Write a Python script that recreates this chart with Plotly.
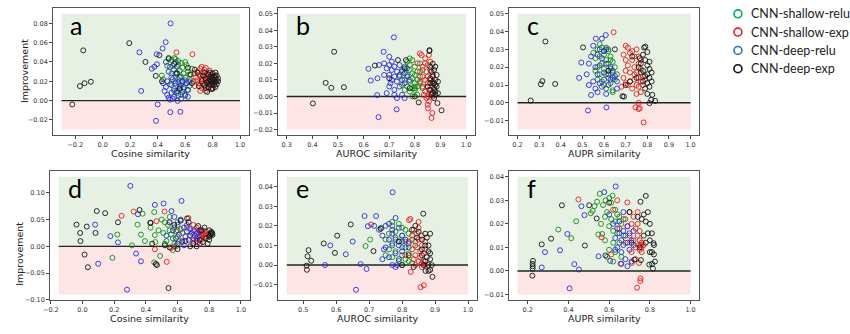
import plotly.graph_objects as go

W, H = 850, 334

# ---------------- data (x similarity, y improvement) ----------------
series_names = ["CNN-shallow-relu", "CNN-shallow-exp", "CNN-deep-relu", "CNN-deep-exp"]
series_colors = ["rgb(20,140,20)", "rgb(228,30,30)", "rgb(45,45,210)", "rgb(20,20,20)"]
legend_colors = ["#00B050", "#E8202A", "#2E75B6", "#111111"]

a_shallow_relu = [(0.43,0.026),(0.47,0.036),(0.48,0.043),(0.50,0.042),(0.52,0.044),(0.53,0.043),(0.55,0.041),(0.57,0.039),(0.60,0.040),(0.61,0.037),(0.58,0.034),(0.56,0.031),(0.54,0.029),(0.52,0.032),(0.50,0.028),(0.59,0.028),(0.62,0.030),(0.63,0.027),(0.57,0.025),(0.60,0.024),(0.55,0.022),(0.53,0.020),(0.58,0.019),(0.61,0.018),(0.64,0.021),(0.56,0.015),(0.59,0.012),(0.62,0.011),(0.54,0.008),(0.57,0.006),(0.60,0.005),(0.52,0.010),(0.49,0.017),(0.65,0.033),(0.63,0.015),(0.55,0.037),(0.51,0.036),(0.44,0.022)]
a_shallow_exp = [(0.537,0.050),(0.653,0.048),(0.66,0.020),(0.67,0.015),(0.68,0.024),(0.69,0.030),(0.70,0.027),(0.70,0.018),(0.71,0.033),(0.72,0.035),(0.72,0.022),(0.72,0.013),(0.73,0.029),(0.73,0.018),(0.74,0.032),(0.74,0.025),(0.74,0.015),(0.75,0.021),(0.75,0.010),(0.76,0.028),(0.76,0.017),(0.77,0.024),(0.77,0.013),(0.78,0.031),(0.78,0.020),(0.79,0.027),(0.79,0.016),(0.80,0.023),(0.80,0.012),(0.81,0.019),(0.71,0.010),(0.69,0.021),(0.67,0.028),(0.75,0.034),(0.82,0.026),(0.76,0.022),(0.78,0.025),(0.73,0.022),(0.71,0.026)]
a_deep_relu = [(0.494,0.080),(0.458,0.0605),(0.267,0.050),(0.393,0.048),(0.436,0.054),(0.376,0.035),(0.357,0.033),(0.395,0.0376),(0.28,0.010),(0.40,-0.004),(0.388,-0.021),(0.492,-0.012),(0.565,-0.0116),(0.545,-0.0003),(0.45,0.010),(0.46,0.014),(0.47,0.006),(0.48,0.003),(0.49,0.001),(0.50,0.008),(0.50,0.016),(0.51,0.022),(0.52,0.012),(0.52,0.004),(0.53,0.018),(0.53,0.028),(0.54,0.010),(0.54,0.035),(0.55,0.019),(0.55,0.005),(0.56,0.024),(0.56,0.013),(0.57,0.016),(0.57,0.002),(0.58,0.020),(0.58,0.009),(0.59,0.014),(0.60,0.006),(0.60,0.021),(0.61,0.018),(0.62,0.011),(0.62,0.004),(0.63,0.019),(0.48,0.030),(0.50,0.024),(0.46,0.040),(0.49,0.035),(0.53,0.040),(0.44,0.018),(0.51,0.002),(0.47,0.020)]
a_deep_exp = [(-0.222,-0.004),(-0.142,0.052),(-0.166,0.015),(-0.133,0.018),(-0.087,0.0195),(0.193,0.0595),(0.311,0.040),(0.412,0.047),(0.386,0.0256),(0.431,0.020),(0.48,0.044),(0.54,0.028),(0.52,0.038),(0.56,0.012),(0.62,0.034),(0.64,0.027),(0.65,0.018),(0.67,0.032),(0.69,0.029),(0.70,0.015),(0.72,0.020),(0.73,0.026),(0.74,0.016),(0.75,0.023),(0.76,0.019),(0.76,0.009),(0.77,0.027),(0.77,0.014),(0.78,0.022),(0.78,0.017),(0.79,0.025),(0.79,0.020),(0.79,0.012),(0.80,0.023),(0.80,0.018),(0.80,0.028),(0.81,0.021),(0.81,0.016),(0.81,0.025),(0.82,0.019),(0.82,0.023),(0.82,0.014),(0.83,0.021),(0.83,0.017),(0.83,0.026),(0.84,0.020),(0.84,0.023),(0.78,0.029),(0.80,0.013),(0.77,0.020),(0.75,0.013),(0.74,0.029),(0.82,0.029)]

b_shallow_relu = [(0.74,0.012),(0.75,0.015),(0.76,0.018),(0.76,0.010),(0.77,0.021),(0.77,0.013),(0.77,0.006),(0.78,0.019),(0.78,0.016),(0.78,0.009),(0.78,0.003),(0.79,0.022),(0.79,0.014),(0.79,0.011),(0.79,0.005),(0.79,0.000),(0.80,0.018),(0.80,0.013),(0.80,0.008),(0.80,0.005),(0.80,0.006),(0.80,0.004),(0.81,0.015),(0.81,0.010),(0.81,0.006),(0.81,0.001),(0.82,0.012),(0.82,0.008),(0.82,0.020),(0.83,0.016),(0.83,0.005),(0.76,0.004),(0.75,0.007),(0.78,0.023)]
b_shallow_exp = [(0.819,0.026),(0.826,0.025),(0.865,-0.013),(0.868,-0.010),(0.851,-0.0072),(0.85,-0.005),(0.855,-0.003),(0.85,0.000),(0.84,0.003),(0.83,0.006),(0.83,0.012),(0.83,0.018),(0.84,0.020),(0.84,0.010),(0.845,0.015),(0.85,0.008),(0.85,0.012),(0.85,0.019),(0.855,0.004),(0.86,0.002),(0.86,0.010),(0.86,0.016),(0.865,0.006),(0.87,0.009),(0.87,0.013),(0.87,0.000),(0.875,0.004),(0.82,0.015),(0.82,0.009),(0.81,0.020),(0.84,0.023),(0.86,0.021),(0.845,-0.001),(0.835,0.001),(0.855,0.025)]
b_deep_relu = [(0.718,0.0357),(0.678,0.027),(0.70,0.024),(0.619,0.0167),(0.628,0.0096),(0.654,0.011),(0.653,0.0008),(0.658,-0.0125),(0.729,-0.0078),(0.66,0.019),(0.68,0.020),(0.69,0.017),(0.69,0.002),(0.70,0.019),(0.70,0.013),(0.70,0.006),(0.71,0.021),(0.71,0.016),(0.71,0.010),(0.72,0.018),(0.72,0.012),(0.72,0.004),(0.73,0.015),(0.73,0.009),(0.73,-0.001),(0.74,0.019),(0.74,0.013),(0.74,0.006),(0.75,0.016),(0.75,0.010),(0.75,0.001),(0.76,0.014),(0.76,0.008),(0.76,-0.001),(0.77,0.012),(0.77,0.017),(0.78,0.010),(0.72,0.001),(0.68,0.013),(0.705,0.008)]
b_deep_exp = [(0.402,-0.0042),(0.485,0.027),(0.452,0.0082),(0.474,0.0052),(0.523,0.0056),(0.644,0.0187),(0.70,0.011),(0.734,0.022),(0.765,0.022),(0.815,-0.0036),(0.904,-0.0084),(0.888,-0.004),(0.857,0.028),(0.857,0.0275),(0.87,0.0197),(0.86,0.018),(0.865,0.015),(0.87,0.012),(0.875,0.016),(0.87,0.008),(0.875,0.005),(0.88,0.010),(0.88,0.003),(0.88,0.001),(0.885,0.006),(0.885,0.013),(0.89,0.002),(0.86,0.004),(0.865,0.001),(0.87,0.002),(0.875,0.008),(0.88,0.018),(0.86,0.011),(0.89,0.009),(0.875,-0.001),(0.86,0.008),(0.88,0.007),(0.85,0.006),(0.80,0.0),(0.78,0.005),(0.76,0.017)]

c_shallow_relu = [(0.55,0.028),(0.56,0.025),(0.57,0.030),(0.57,0.020),(0.58,0.026),(0.58,0.016),(0.59,0.031),(0.59,0.022),(0.59,0.012),(0.60,0.027),(0.60,0.019),(0.60,0.010),(0.61,0.031),(0.61,0.024),(0.61,0.016),(0.61,0.008),(0.62,0.029),(0.62,0.022),(0.62,0.014),(0.62,0.030),(0.63,0.026),(0.63,0.019),(0.63,0.011),(0.64,0.023),(0.64,0.017),(0.64,0.007),(0.65,0.020),(0.65,0.013),(0.66,0.016),(0.58,0.033),(0.60,0.029),(0.62,0.018),(0.63,0.024),(0.56,0.018),(0.64,0.006),(0.57,0.013)]
c_shallow_exp = [(0.644,0.0396),(0.783,-0.011),(0.765,-0.003),(0.76,-0.0035),(0.745,-0.0025),(0.76,0.0),(0.70,0.032),(0.71,0.031),(0.69,0.027),(0.70,0.024),(0.70,0.018),(0.69,0.014),(0.71,0.021),(0.72,0.028),(0.72,0.017),(0.72,0.012),(0.73,0.024),(0.73,0.029),(0.73,0.008),(0.74,0.020),(0.74,0.013),(0.74,0.026),(0.75,0.017),(0.75,0.010),(0.75,0.005),(0.76,0.022),(0.76,0.014),(0.76,0.009),(0.77,0.019),(0.77,0.012),(0.77,0.006),(0.78,0.015),(0.78,0.010),(0.79,0.013),(0.75,0.030),(0.76,0.026),(0.71,0.010),(0.70,0.011),(0.68,0.009),(0.74,0.016),(0.77,0.024)]
c_deep_relu = [(0.608,0.038),(0.562,0.036),(0.495,0.0226),(0.485,0.014),(0.54,0.0044),(0.526,-0.0043),(0.611,-0.0026),(0.52,0.016),(0.53,0.022),(0.54,0.026),(0.55,0.012),(0.55,0.032),(0.56,0.020),(0.56,0.008),(0.57,0.027),(0.57,0.016),(0.58,0.030),(0.58,0.011),(0.58,0.021),(0.59,0.025),(0.59,0.009),(0.60,0.029),(0.60,0.017),(0.60,0.013),(0.61,0.022),(0.61,0.030),(0.62,0.016),(0.62,0.010),(0.63,0.020),(0.63,0.013),(0.64,0.018),(0.64,0.014),(0.65,0.015),(0.66,0.012),(0.66,0.008),(0.59,0.036),(0.57,0.006),(0.61,0.005),(0.53,0.010)]
c_deep_exp = [(0.261,0.0013),(0.329,0.0344),(0.315,0.0122),(0.308,0.0104),(0.374,0.0106),(0.503,0.0311),(0.692,0.0035),(0.685,0.0037),(0.70,0.010),(0.62,0.018),(0.65,0.030),(0.72,0.012),(0.73,0.026),(0.791,0.0315),(0.785,0.031),(0.80,0.0285),(0.765,0.025),(0.81,0.019),(0.818,0.0017),(0.823,0.0045),(0.836,0.0011),(0.81,-0.0002),(0.77,0.022),(0.78,0.018),(0.78,0.012),(0.79,0.015),(0.79,0.008),(0.80,0.021),(0.80,0.016),(0.80,0.011),(0.81,0.014),(0.81,0.009),(0.82,0.017),(0.82,0.012),(0.79,0.024),(0.77,0.017),(0.80,0.005),(0.76,0.020),(0.81,0.023),(0.78,0.027),(0.75,0.014)]

d_shallow_relu = [(0.189,-0.0215),(0.22,0.022),(0.312,0.0018),(0.348,0.0406),(0.369,0.022),(0.379,0.061),(0.453,0.064),(0.394,0.0098),(0.457,0.021),(0.453,-0.030),(0.49,-0.018),(0.43,0.035),(0.50,0.050),(0.52,0.045),(0.54,0.040),(0.55,0.030),(0.56,0.022),(0.57,0.015),(0.57,-0.007),(0.58,0.035),(0.58,0.005),(0.59,0.028),(0.60,0.018),(0.60,0.045),(0.61,0.010),(0.62,0.032),(0.53,0.010),(0.51,0.025),(0.55,0.055),(0.48,0.030),(0.63,0.025),(0.59,0.000),(0.52,0.005),(0.46,0.008)]
d_shallow_exp = [(0.247,0.057),(0.323,0.065),(0.518,0.065),(0.467,0.047),(0.457,-0.0055),(0.532,-0.029),(0.669,0.053),(0.55,0.045),(0.60,0.030),(0.63,0.010),(0.66,0.035),(0.68,0.020),(0.70,0.040),(0.71,0.028),(0.72,0.015),(0.72,0.035),(0.73,0.025),(0.73,0.008),(0.74,0.030),(0.74,0.018),(0.75,0.022),(0.75,0.027),(0.75,0.012),(0.76,0.020),(0.76,0.030),(0.76,0.025),(0.77,0.017),(0.77,0.023),(0.78,0.028),(0.78,0.019),(0.79,0.022),(0.74,0.005),(0.70,0.010),(0.58,0.000),(0.56,-0.003)]
d_deep_relu = [(0.302,0.113),(0.281,-0.081),(0.099,-0.0326),(0.338,-0.0135),(0.369,-0.028),(0.08,0.0406),(0.176,0.019),(0.224,0.0074),(0.457,0.0775),(0.512,0.080),(0.625,0.085),(0.562,0.066),(0.35,0.060),(0.55,0.045),(0.57,0.030),(0.59,0.015),(0.60,0.040),(0.61,0.022),(0.62,0.050),(0.63,0.008),(0.64,0.035),(0.65,0.018),(0.66,0.040),(0.66,0.028),(0.67,0.012),(0.68,0.032),(0.68,0.020),(0.69,0.025),(0.70,0.015),(0.70,0.030),(0.71,0.020),(0.72,0.024),(0.72,0.010),(0.73,0.018),(0.74,0.028),(0.64,0.002),(0.58,0.055),(0.53,0.020),(0.60,0.005)]
d_deep_exp = [(-0.038,0.0406),(-0.015,0.025),(-0.013,0.0098),(0.013,-0.0154),(0.034,-0.039),(0.027,0.037),(0.082,0.025),(0.09,0.066),(0.143,0.062),(0.224,0.045),(0.36,0.068),(0.428,0.044),(0.43,0.044),(0.463,-0.033),(0.543,-0.078),(0.47,-0.035),(0.44,0.005),(0.52,0.002),(0.55,-0.002),(0.60,-0.005),(0.62,0.048),(0.65,0.010),(0.67,0.045),(0.68,0.000),(0.70,0.005),(0.72,0.000),(0.73,0.038),(0.74,0.012),(0.75,0.030),(0.76,0.008),(0.77,0.035),(0.78,0.015),(0.79,0.005),(0.80,0.030),(0.80,0.018),(0.81,0.023),(0.81,0.025),(0.82,0.021),(0.815,0.027),(0.805,0.020),(0.82,0.024),(0.80,0.012),(0.58,0.040),(0.66,0.052)]

e_shallow_relu = [(0.689,0.0097),(0.703,0.013),(0.736,0.019),(0.75,0.013),(0.76,0.016),(0.76,0.008),(0.77,0.020),(0.77,0.011),(0.77,0.004),(0.78,0.017),(0.78,0.014),(0.78,0.007),(0.79,0.021),(0.79,0.012),(0.79,0.002),(0.80,0.019),(0.80,0.015),(0.80,0.009),(0.80,0.005),(0.81,0.018),(0.81,0.012),(0.81,0.003),(0.82,0.016),(0.82,0.009),(0.82,0.006),(0.83,0.013),(0.83,0.001),(0.84,0.010),(0.75,0.005),(0.77,0.022),(0.80,0.0),(0.82,0.002)]
e_shallow_exp = [(0.706,0.0207),(0.821,0.0229),(0.825,0.0235),(0.856,-0.0113),(0.866,-0.0103),(0.826,-0.0035),(0.83,0.015),(0.835,0.018),(0.84,0.012),(0.84,0.005),(0.845,0.016),(0.845,0.009),(0.85,0.002),(0.85,0.013),(0.85,0.019),(0.855,0.007),(0.855,0.004),(0.86,0.010),(0.86,0.001),(0.86,0.015),(0.865,0.006),(0.865,0.002),(0.87,0.008),(0.87,0.0),(0.83,0.008),(0.835,0.003),(0.82,0.012),(0.81,0.005),(0.84,0.0),(0.87,0.012),(0.85,0.022),(0.86,-0.001)]
e_deep_relu = [(0.771,0.0371),(0.686,0.025),(0.721,0.025),(0.696,0.0198),(0.629,0.0055),(0.566,0.0),(0.582,0.01),(0.65,0.012),(0.674,0.0005),(0.692,-0.002),(0.66,-0.0126),(0.715,0.020),(0.73,0.018),(0.74,0.015),(0.75,0.020),(0.75,0.009),(0.76,0.021),(0.76,0.013),(0.76,0.004),(0.77,0.018),(0.77,0.016),(0.77,0.010),(0.77,0.000),(0.78,0.024),(0.78,0.013),(0.78,0.006),(0.78,-0.001),(0.79,0.019),(0.79,0.010),(0.79,0.003),(0.80,0.015),(0.80,0.012),(0.80,0.007),(0.81,0.013),(0.81,0.009),(0.82,0.011),(0.74,0.003),(0.745,0.008),(0.785,0.0)]
e_deep_exp = [(0.51,-0.0003),(0.511,-0.0024),(0.513,0.0045),(0.516,0.0076),(0.524,0.0022),(0.562,0.011),(0.596,0.0062),(0.603,0.015),(0.644,0.0207),(0.713,0.0071),(0.864,0.0262),(0.892,-0.006),(0.871,-0.003),(0.88,-0.003),(0.885,-0.0025),(0.735,0.0185),(0.79,0.012),(0.80,0.0),(0.82,0.005),(0.835,-0.001),(0.84,0.020),(0.85,0.017),(0.86,0.013),(0.87,0.016),(0.87,0.010),(0.875,0.014),(0.875,0.004),(0.88,0.007),(0.88,0.010),(0.885,0.003),(0.885,0.006),(0.89,0.0),(0.86,0.005),(0.865,0.0),(0.88,0.0),(0.87,0.002),(0.845,0.014),(0.83,0.018),(0.885,0.016),(0.86,0.008)]

f_shallow_relu = [(0.35,0.0176),(0.414,0.0139),(0.438,0.0211),(0.528,0.0275),(0.519,0.0255),(0.51,0.0245),(0.541,0.0294),(0.554,0.0328),(0.617,0.032),(0.583,0.030),(0.57,0.028),(0.547,0.0155),(0.566,0.0157),(0.56,0.020),(0.58,0.023),(0.59,0.025),(0.60,0.019),(0.60,0.009),(0.61,0.029),(0.61,0.022),(0.62,0.017),(0.62,0.012),(0.63,0.026),(0.63,0.021),(0.63,0.008),(0.64,0.024),(0.64,0.016),(0.65,0.023),(0.65,0.012),(0.66,0.020),(0.66,0.006),(0.67,0.015),(0.58,0.013),(0.59,0.006),(0.62,0.004),(0.68,0.022),(0.60,0.031)]
f_shallow_exp = [(0.449,0.0304),(0.563,0.0143),(0.689,0.0291),(0.656,0.0031),(0.711,0.0034),(0.737,-0.0071),(0.753,-0.0043),(0.754,-0.0032),(0.747,0.0034),(0.61,0.007),(0.62,0.026),(0.65,0.018),(0.67,0.022),(0.68,0.012),(0.69,0.019),(0.70,0.025),(0.70,0.015),(0.71,0.008),(0.72,0.023),(0.72,0.013),(0.73,0.018),(0.73,0.010),(0.74,0.020),(0.74,0.015),(0.745,0.011),(0.75,0.013),(0.75,0.009),(0.75,0.017),(0.755,0.011),(0.76,0.012),(0.76,0.010),(0.76,0.008),(0.77,0.011),(0.74,0.025),(0.71,0.020),(0.73,0.005),(0.64,0.030)]
f_deep_relu = [(0.632,0.0359),(0.464,0.0275),(0.479,0.0237),(0.576,0.0335),(0.395,0.0157),(0.359,0.0088),(0.285,0.008),(0.269,0.0015),(0.429,0.0029),(0.452,0.0006),(0.406,-0.0074),(0.548,0.0062),(0.605,0.0043),(0.60,0.024),(0.62,0.020),(0.63,0.014),(0.64,0.018),(0.64,0.010),(0.65,0.016),(0.65,0.021),(0.66,0.013),(0.66,0.008),(0.67,0.017),(0.67,0.011),(0.68,0.015),(0.68,0.005),(0.69,0.019),(0.69,0.012),(0.70,0.016),(0.70,0.009),(0.71,0.013),(0.71,0.004),(0.72,0.011),(0.72,0.017),(0.67,0.025),(0.66,0.003),(0.63,0.009),(0.69,0.002)]
f_deep_exp = [(0.223,-0.002),(0.226,0.0043),(0.224,0.003),(0.225,0.002),(0.224,0.001),(0.269,0.0113),(0.315,0.0137),(0.368,0.0279),(0.481,0.0108),(0.502,0.0279),(0.539,0.0223),(0.582,0.0066),(0.756,0.0046),(0.724,0.0048),(0.78,0.0319),(0.754,0.0294),(0.60,0.029),(0.70,0.025),(0.71,0.012),(0.74,0.023),(0.76,0.022),(0.77,0.024),(0.78,0.021),(0.79,0.025),(0.79,0.016),(0.80,0.020),(0.80,0.013),(0.81,0.016),(0.81,0.008),(0.82,0.011),(0.82,0.007),(0.811,0.003),(0.815,0.001),(0.797,0.0027),(0.818,0.0118),(0.80,0.008),(0.78,0.012),(0.77,0.015),(0.75,0.010),(0.825,0.004)]

# panel settings
panel_letters = ["a", "b", "c", "d", "e", "f"]
x_titles = ["Cosine similarity", "AUROC similarity", "AUPR similarity",
            "Cosine similarity", "AUROC similarity", "AUPR similarity"]
x_spans = [(-0.3, 1.0), (0.3, 1.0), (0.2, 1.0), (-0.15, 1.0), (0.45, 1.0), (0.15, 1.0)]
y_spans = [(-0.03, 0.09), (-0.02, 0.05), (-0.015, 0.05), (-0.09, 0.13), (-0.015, 0.045), (-0.01, 0.04)]
x_ticks = [[-0.2, 0.0, 0.2, 0.4, 0.6, 0.8, 1.0],
           [0.3, 0.4, 0.5, 0.6, 0.7, 0.8, 0.9, 1.0],
           [0.2, 0.3, 0.4, 0.5, 0.6, 0.7, 0.8, 0.9, 1.0],
           [-0.2, 0.0, 0.2, 0.4, 0.6, 0.8, 1.0],
           [0.5, 0.6, 0.7, 0.8, 0.9, 1.0],
           [0.2, 0.4, 0.6, 0.8, 1.0]]
y_ticks = [[-0.02, 0.0, 0.02, 0.04, 0.06, 0.08],
           [-0.02, -0.01, 0.0, 0.01, 0.02, 0.03, 0.04, 0.05],
           [-0.01, 0.0, 0.01, 0.02, 0.03, 0.04, 0.05],
           [-0.10, -0.05, 0.0, 0.05, 0.10],
           [-0.01, 0.0, 0.01, 0.02, 0.03, 0.04],
           [-0.01, 0.0, 0.01, 0.02, 0.03, 0.04]]
frames = [(46, 244, 8, 137), (273, 472, 8, 137), (506, 698, 8, 137),
          (43, 245, 173, 304), (273, 474, 173, 304), (506, 698, 173, 304)]

panel_data = [
    [a_shallow_relu, a_shallow_exp, a_deep_relu, a_deep_exp],
    [b_shallow_relu, b_shallow_exp, b_deep_relu, b_deep_exp],
    [c_shallow_relu, c_shallow_exp, c_deep_relu, c_deep_exp],
    [d_shallow_relu, d_shallow_exp, d_deep_relu, d_deep_exp],
    [e_shallow_relu, e_shallow_exp, e_deep_relu, e_deep_exp],
    [f_shallow_relu, f_shallow_exp, f_deep_relu, f_deep_exp],
]

def px(x):
    return x / W

def py(y):
    return 1 - y / H

fig = go.Figure()
shapes = []
annotations = []
layout_axes = {}

TICKFONT = dict(family="DejaVu Sans", size=6.5, color="#333333")
LABELFONT = dict(family="DejaVu Sans", size=9.5, color="#222222")

for i in range(6):
    n = "" if i == 0 else str(i + 1)
    xa, ya = "x" + n, "y" + n
    x0, x1, y0, y1 = frames[i]
    xs0, xs1 = x_spans[i]
    ys0, ys1 = y_spans[i]
    mx = 0.05 * (xs1 - xs0)
    my = 0.05 * (ys1 - ys0)
    layout_axes["xaxis" + n] = dict(
        domain=[px(x0), px(x1)], anchor=ya, range=[xs0 - mx, xs1 + mx],
        tickvals=x_ticks[i], tickformat=".1f", ticks="outside", ticklen=2.5, tickwidth=0.8,
        tickcolor="#444", tickfont=TICKFONT, showline=True, mirror=True,
        linecolor="#555555", linewidth=1, showgrid=False, zeroline=False)
    layout_axes["yaxis" + n] = dict(
        domain=[py(y1), py(y0)], anchor=xa, range=[ys0 - my, ys1 + my],
        tickvals=y_ticks[i], tickformat=".2f", ticks="outside", ticklen=2.5, tickwidth=0.8,
        tickcolor="#444", tickfont=TICKFONT, showline=True, mirror=True,
        linecolor="#555555", linewidth=1, showgrid=False, zeroline=False)
    # shaded regions
    shapes.append(dict(type="rect", xref=xa, yref=ya, x0=xs0, x1=xs1, y0=0, y1=ys1,
                       fillcolor="rgb(230,241,228)", line_width=0, layer="below"))
    shapes.append(dict(type="rect", xref=xa, yref=ya, x0=xs0, x1=xs1, y0=ys0, y1=0,
                       fillcolor="rgb(253,229,229)", line_width=0, layer="below"))
    shapes.append(dict(type="line", xref=xa, yref=ya, x0=xs0, x1=xs1, y0=0, y1=0,
                       line=dict(color="#222222", width=1.4), layer="below"))
    # scatter series
    for s in range(4):
        pts = panel_data[i][s]
        fig.add_trace(go.Scatter(
            x=[p[0] for p in pts], y=[p[1] for p in pts], mode="markers",
            xaxis=xa, yaxis=ya, showlegend=False, name=series_names[s],
            marker=dict(symbol="circle-open", size=5, color=series_colors[s],
                        line=dict(width=0.9, color=series_colors[s]))))
    # panel letter
    annotations.append(dict(text=panel_letters[i], xref="paper", yref="paper",
                            x=px(x0 + 16), y=py(y0 + 17), xanchor="left", yanchor="middle",
                            showarrow=False, font=dict(family="Lato", size=25, color="#000")))
    # x title
    cy = 155.5 if i < 3 else 322.5
    annotations.append(dict(text=x_titles[i], xref="paper", yref="paper",
                            x=px((x0 + x1) / 2), y=py(cy), xanchor="center", yanchor="middle",
                            showarrow=False, font=LABELFONT))

# y titles
annotations.append(dict(text="Improvement", xref="paper", yref="paper", x=px(17), y=py(72),
                        xanchor="center", yanchor="middle", textangle=-90, showarrow=False,
                        font=LABELFONT))
annotations.append(dict(text="Improvement", xref="paper", yref="paper", x=px(13), y=py(257),
                        xanchor="center", yanchor="middle", textangle=-90, showarrow=False,
                        font=LABELFONT))

# legend (drawn manually, as in the original figure)
legend_rows = [14, 32.5, 51, 69.5]
for k in range(4):
    cx, cyy, r = 737, legend_rows[k], 4
    shapes.append(dict(type="circle", xref="paper", yref="paper",
                       x0=px(cx - r), x1=px(cx + r), y0=py(cyy + r), y1=py(cyy - r),
                       line=dict(color=legend_colors[k], width=1.6), fillcolor="rgba(0,0,0,0)"))
    annotations.append(dict(text=series_names[k], xref="paper", yref="paper",
                            x=px(748), y=py(cyy), xanchor="left", yanchor="middle",
                            showarrow=False, font=dict(family="Lato", size=12.5, color="#222")))

fig.update_layout(
    width=W, height=H, margin=dict(l=0, r=0, t=0, b=0),
    paper_bgcolor="white", plot_bgcolor="white",
    shapes=shapes, annotations=annotations, showlegend=False,
    **layout_axes)

fig.write_html("out.html")
